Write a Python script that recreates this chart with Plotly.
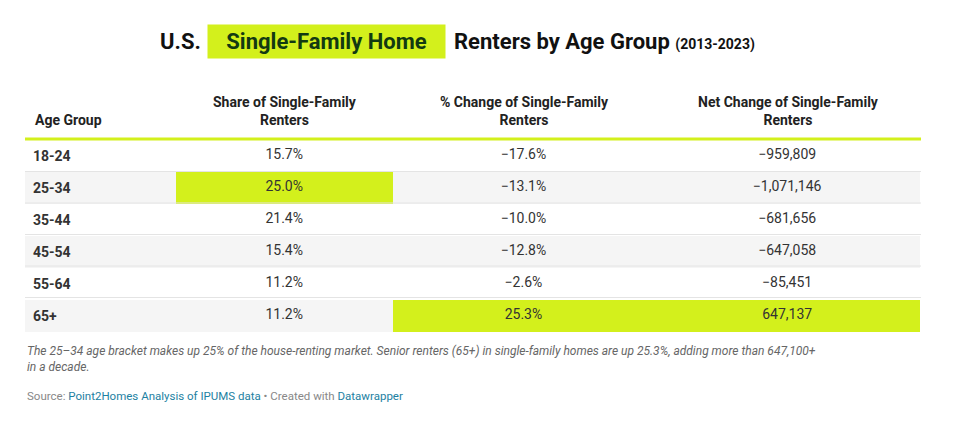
import plotly.graph_objects as go

age_groups = ["18-24", "25-34", "35-44", "45-54", "55-64", "65+"]
share = ["15.7%", "25.0%", "21.4%", "15.4%", "11.2%", "11.2%"]
pct_change = ["−17.6%", "−13.1%", "−10.0%", "−12.8%", "−2.6%", "25.3%"]
net_change = ["−959,809", "−1,071,146", "−681,656", "−647,058", "−85,451", "647,137"]
headers = ["Age Group", "Share of Single-Family<br>Renters", "% Change of Single-Family<br>Renters",
           "Net Change of Single-Family<br>Renters"]

W, H = 957, 426
HL = "#d3f01c"
row_bg = ["#ffffff", "#f5f5f5"] * 3

def col_fill(col):
    out = []
    for i in range(6):
        c = row_bg[i]
        if col == 1 and i == 1:
            c = HL
        if col in (2, 3) and i == 5:
            c = HL
        out.append(c)
    return out

x0, x1 = 17, 913
colw = [151, 217, 262, 266]
hdr_top, hdr_bot = 80, 132
row_h = 31.5
y_bot = hdr_bot + row_h * len(age_groups)

fig = go.Figure(go.Table(
    domain=dict(x=[x0 / W, x1 / W], y=[0, 1 - hdr_bot / H]),
    columnwidth=colw,
    header=dict(values=[""] * 4, fill_color="white", line_color="white", height=0.1),
    cells=dict(
        values=[[f"<b>{a}</b>" for a in age_groups], share, pct_change, net_change],
        align=["left", "center", "center", "center"],
        fill_color=[col_fill(c) for c in range(4)],
        line=dict(color="rgba(0,0,0,0)", width=0),
        font=dict(family="Roboto", size=14, color="#333"),
        height=row_h,
    ),
))

shapes = [
    dict(type="line", xref="paper", yref="paper", x0=x0 / W, x1=x1 / W,
         y0=1 - (hdr_bot - 1) / H, y1=1 - (hdr_bot - 1) / H, line=dict(color=HL, width=3)),
]
for k in range(1, len(age_groups)):
    yy = hdr_bot + row_h * k
    shapes.append(dict(type="line", xref="paper", yref="paper", x0=x0 / W, x1=x1 / W,
                       y0=1 - yy / H, y1=1 - yy / H, line=dict(color="#e4e4e4", width=1)))

annotations = [
    dict(x=195 / W, y=1 - 33 / H, xref="paper", yref="paper", showarrow=False,
         xanchor="right", yanchor="middle", text="<b>U.S.</b>",
         font=dict(family="Roboto", size=22, color="#111")),
    dict(x=318.5 / W, y=1 - 33 / H, xref="paper", yref="paper", showarrow=False,
         xanchor="center", yanchor="middle", text="<b>Single-Family Home</b>",
         bgcolor=HL, borderpad=4, width=229,
         font=dict(family="Roboto", size=22, color="#123a12")),
    dict(x=444 / W, y=1 - 33 / H, xref="paper", yref="paper", showarrow=False,
         xanchor="left", yanchor="middle",
         text="<b>Renters by Age Group </b><b><span style='font-size:14px'>(2013-2023)</span></b>",
         font=dict(family="Roboto", size=22, color="#111")),
    dict(x=x0 / W, y=1 - 351 / H, xref="paper", yref="paper", showarrow=False,
         xanchor="left", yanchor="middle", align="left",
         text="<i>The 25–34 age bracket makes up 25% of the house-renting market. Senior renters (65+) in single-family homes are up 25.3%, adding more than 647,100+</i><br><i>in a decade.</i>",
         font=dict(family="Roboto", size=12, color="#666")),
    dict(x=x0 / W, y=1 - 388 / H, xref="paper", yref="paper", showarrow=False,
         xanchor="left", yanchor="middle",
         text="Source: <span style='color:#1d81a2'>Point2Homes Analysis of IPUMS data</span> • Created with <span style='color:#1d81a2'>Datawrapper</span>",
         font=dict(family="Roboto", size=11.5, color="#888")),
]

# header labels
xs = [x0]
for w in colw:
    xs.append(xs[-1] + w * (x1 - x0) / sum(colw))
for i, h in enumerate(headers):
    if i == 0:
        ax, anc = xs[0] + 8, "left"
    else:
        ax, anc = (xs[i] + xs[i + 1]) / 2, "center"
    annotations.append(dict(x=ax / W, y=1 - (hdr_bot - 10) / H, xref="paper", yref="paper",
                            showarrow=False, xanchor=anc, yanchor="bottom", align="center",
                            text=f"<b>{h}</b>", font=dict(family="Roboto", size=14, color="#222")))

fig.update_layout(width=W, height=H, margin=dict(l=0, r=0, t=0, b=0),
                  paper_bgcolor="white", shapes=shapes, annotations=annotations)
fig.write_html("out.html")
